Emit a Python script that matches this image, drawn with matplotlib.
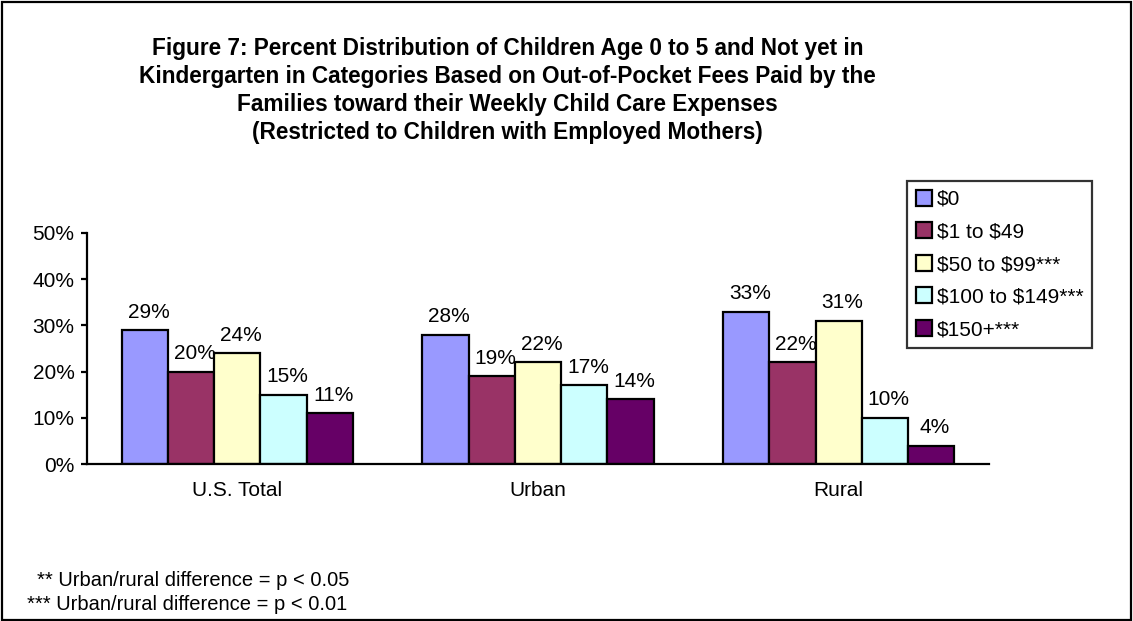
import matplotlib
matplotlib.use("Agg")
import matplotlib.pyplot as plt
import numpy as np
from matplotlib.patches import Rectangle

plt.rcParams["font.family"] = ["Liberation Sans", "DejaVu Sans"]
plt.rcParams["text.parse_math"] = False  # keep the dollar signs literal

groups = ["U.S. Total", "Urban", "Rural"]
fee_bands = ["$0", "$1 to $49", "$50 to $99***", "$100 to $149***", "$150+***"]
shares = [
    [29, 28, 33],   # $0
    [20, 19, 22],   # $1 to $49
    [24, 22, 31],   # $50 to $99
    [15, 17, 10],   # $100 to $149
    [11, 14, 4],    # $150+
]
band_colors = ["#9999FF", "#993366", "#FFFFCC", "#CCFFFF", "#660066"]
y_ticks = [0, 10, 20, 30, 40, 50]

title = ("Figure 7: Percent Distribution of Children Age 0 to 5 and Not yet in\n"
         "Kindergarten in Categories Based on Out-of-Pocket Fees Paid by the\n"
         "Families toward their Weekly Child Care Expenses\n"
         "(Restricted to Children with Employed Mothers)")
notes = ["** Urban/rural difference = p < 0.05",
         "*** Urban/rural difference = p < 0.01"]

FS = 15

fig = plt.figure(figsize=(11.33, 6.21), dpi=100)
ax = fig.add_axes([0.0768, 0.2528, 0.7961, 0.372])

x = np.arange(len(groups))
n = len(fee_bands)
w = 1 / 6.5
for i, (band, vals, col) in enumerate(zip(fee_bands, shares, band_colors)):
    pos = x + (i - (n - 1) / 2) * w
    bars = ax.bar(pos, vals, width=w, color=col, edgecolor="black",
                  linewidth=1.6, label=band)
    for b, v in zip(bars, vals):
        ax.annotate(f"{v}%", (b.get_x() + b.get_width() / 2 + 0.012, v),
                    xytext=(0, 6), textcoords="offset points",
                    ha="center", va="bottom", fontsize=FS)

ax.set_xlim(-0.5, 2.5)
ax.set_ylim(0, 50)
ax.set_yticks(y_ticks)
ax.set_yticklabels([f"{t}%" for t in y_ticks], fontsize=FS)
ax.set_xticks(x)
ax.set_xticklabels(groups, fontsize=FS)
ax.tick_params(axis="x", length=0, pad=12)
ax.tick_params(axis="y", direction="out", length=4, width=1.6, pad=5)
for side in ("top", "right"):
    ax.spines[side].set_visible(False)
for side in ("left", "bottom"):
    ax.spines[side].set_linewidth(1.6)

fig.text(0.448, 0.94, title, ha="center", va="top", fontsize=16.3,
         fontweight="bold", linespacing=1.27)

leg = ax.legend(loc="upper left", bbox_to_anchor=(0.8005, 1 - 181 / 621),
                bbox_transform=fig.transFigure, frameon=True, fancybox=False,
                fontsize=FS, handlelength=0.8, handleheight=0.8,
                handletextpad=0.2, labelspacing=0.64, borderpad=0.42,
                borderaxespad=0)
leg.get_frame().set_edgecolor("black")
leg.get_frame().set_linewidth(1.6)
for h in leg.legend_handles:
    h.set_linewidth(1.6)

fig.text(0.033, 0.066, notes[0], ha="left", va="center", fontsize=14.5)
fig.text(0.024, 0.027, notes[1], ha="left", va="center", fontsize=14.5)

fig.patches.append(Rectangle((0.002, 0.002), 0.996, 0.994, transform=fig.transFigure,
                             fill=False, edgecolor="black", linewidth=1.6))

fig.savefig("out.png", dpi=100)
